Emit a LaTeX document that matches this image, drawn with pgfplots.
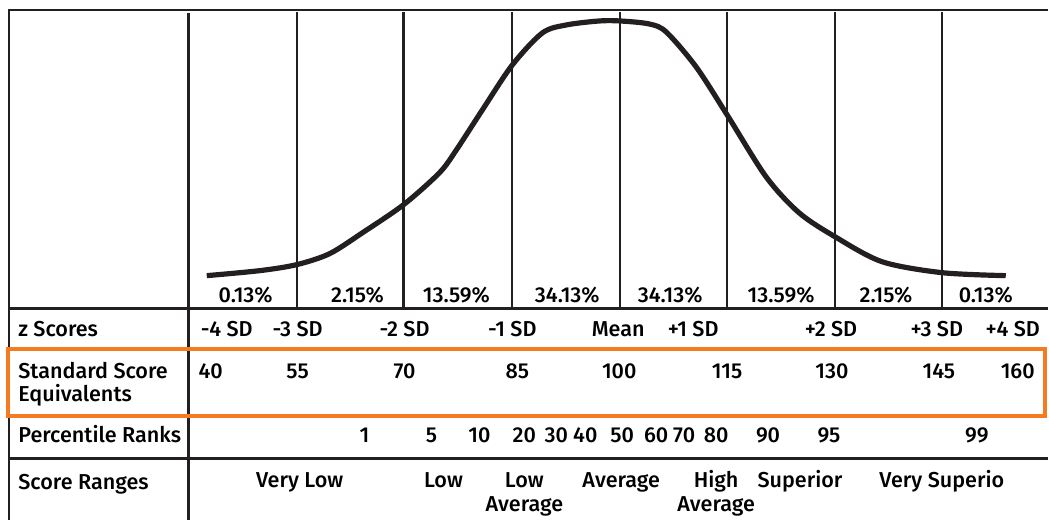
\documentclass[border=0pt]{standalone}
\usepackage{fontspec}
\setmainfont{Fira Sans}[UprightFont=* Medium]
\usepackage{pgfplots}
\pgfplotsset{compat=1.18}
\definecolor{boxorange}{HTML}{F47B20}
\definecolor{ink}{HTML}{231F20}

\newcommand{\lbl}[3]{\node[anchor=base, inner sep=0pt] at (axis cs:#1,#2) {#3};}

\begin{document}
\begin{tikzpicture}[font=\fontsize{10.8}{12}\selectfont]
\begin{axis}[
    width=524.5pt, height=260.5pt, scale only axis,
    xmin=0, xmax=1049, ymin=0, ymax=521, y dir=reverse,
    axis lines=none, clip=false,
]
\path (axis cs:0,0) rectangle (axis cs:1049,521);

% table frame
\draw[ink, line width=1.3pt] (axis cs:8,10) -- (axis cs:1049,10);
\draw[ink, line width=1.3pt] (axis cs:9,10) -- (axis cs:9,521);
\draw[ink, line width=1.3pt] (axis cs:189,13) -- (axis cs:189,521);
\draw[ink, line width=1.3pt] (axis cs:9,309) -- (axis cs:1049,309);
\draw[ink, line width=1.3pt] (axis cs:9,459) -- (axis cs:1049,459);
\pgfplotsinvokeforeach{297,404,513,621,728,836,943}{
    \draw[ink, line width=1.1pt] (axis cs:#1,12) -- (axis cs:#1,309);
}
\draw[boxorange, line width=2pt] (axis cs:8,349) rectangle (axis cs:1046,417);

% bell curve
\addplot[ink, line width=2.6pt, smooth, tension=0.5] coordinates {
    (207,276) (260,271) (297,265) (330,254) (363,233) (404,205) (440,173)
    (457,150) (483,110) (513,65) (543,33) (567,25) (600,21) (621,21)
    (650,24) (667,32) (697,67) (728,115) (767,177) (800,213) (836,237)
    (883,262) (943,273) (1007,276)
};

% area percentages
\lbl{246}{303}{0.13\%} \lbl{358}{303}{2.15\%} \lbl{457}{303}{13.59\%}
\lbl{568}{303}{34.13\%} \lbl{671}{303}{34.13\%} \lbl{782}{303}{13.59\%}
\lbl{887}{303}{2.15\%} \lbl{987}{303}{0.13\%}

% row labels
\node[anchor=base west, inner sep=0pt] at (axis cs:18,337) {z Scores};
\node[anchor=base west, inner sep=0pt] at (axis cs:18,379) {Standard Score};
\node[anchor=base west, inner sep=0pt] at (axis cs:18,402) {Equivalents};
\node[anchor=base west, inner sep=0pt] at (axis cs:18,443) {Percentile Ranks};
\node[anchor=base west, inner sep=0pt] at (axis cs:18,490) {Score Ranges};

% z scores
\lbl{227}{337}{-4 SD} \lbl{298}{337}{-3 SD} \lbl{405}{337}{-2 SD}
\lbl{513}{337}{-1 SD} \lbl{619}{337}{Mean} \lbl{694}{337}{+1 SD}
\lbl{832}{337}{+2 SD} \lbl{938}{337}{+3 SD} \lbl{1014}{337}{+4 SD}

% standard scores
\lbl{211}{379}{40} \lbl{298}{379}{55} \lbl{405}{379}{70} \lbl{518}{379}{85}
\lbl{620}{379}{100} \lbl{728}{379}{115} \lbl{833}{379}{130}
\lbl{940}{379}{145} \lbl{1019}{379}{160}

% percentile ranks
\lbl{365}{443}{1} \lbl{432}{443}{5} \lbl{480}{443}{10} \lbl{525}{443}{20}
\lbl{557}{443}{30} \lbl{586}{443}{40} \lbl{623}{443}{50} \lbl{657}{443}{60}
\lbl{685}{443}{70} \lbl{717}{443}{80} \lbl{769}{443}{90} \lbl{830}{443}{95}
\lbl{978}{443}{99}

% score ranges
\lbl{300}{488}{Very Low} \lbl{444}{488}{Low} \lbl{525}{488}{Low}
\lbl{622}{488}{Average} \lbl{717}{488}{High} \lbl{801}{488}{Superior}
\lbl{943}{488}{Very Superio}
\lbl{525}{512}{Average} \lbl{717}{512}{Average}
\end{axis}
\end{tikzpicture}
\end{document}
